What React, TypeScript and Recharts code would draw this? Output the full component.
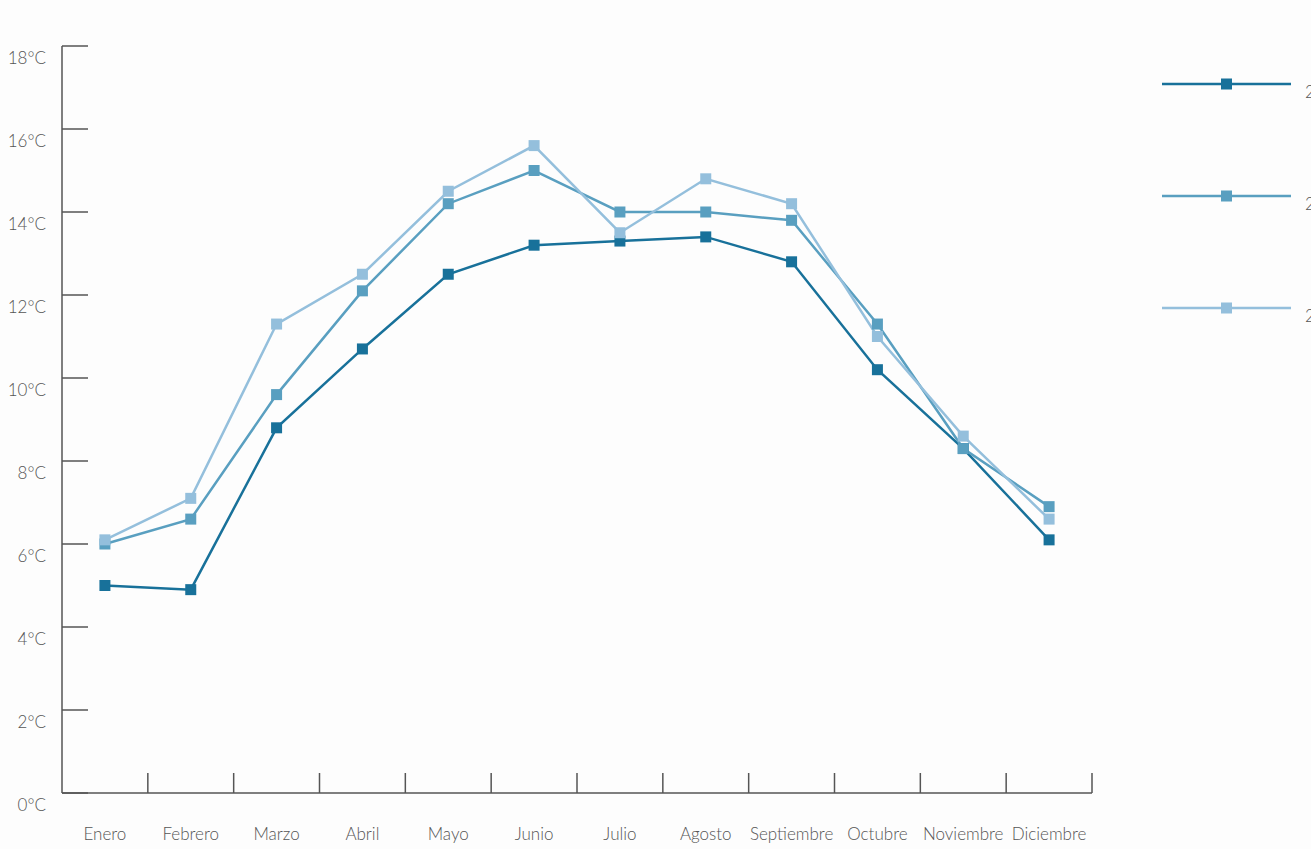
import React from 'react'
import { LineChart, Line, XAxis, YAxis, Legend } from 'recharts'

// Monthly temperatures, three years
const months = [
  'Enero', 'Febrero', 'Marzo', 'Abril', 'Mayo', 'Junio',
  'Julio', 'Agosto', 'Septiembre', 'Octubre', 'Noviembre', 'Diciembre'
]
const serie2010 = [5.0, 4.9, 8.8, 10.7, 12.5, 13.2, 13.3, 13.4, 12.8, 10.2, 8.3, 6.1]
const serie2011 = [6.0, 6.6, 9.6, 12.1, 14.2, 15.0, 14.0, 14.0, 13.8, 11.3, 8.3, 6.9]
const serie2012 = [6.1, 7.1, 11.3, 12.5, 14.5, 15.6, 13.5, 14.8, 14.2, 11.0, 8.6, 6.6]
const yTicks = [0, 2, 4, 6, 8, 10, 12, 14, 16, 18]

const series = [
  { key: 'a', name: '2010', color: '#18719a', values: serie2010 },
  { key: 'b', name: '2011', color: '#599fc0', values: serie2011 },
  { key: 'c', name: '2012', color: '#94bfdc', values: serie2012 }
]

const data = months.map((m, i) => ({
  mes: m,
  a: serie2010[i],
  b: serie2011[i],
  c: serie2012[i]
}))

const W = 1311
const H = 849
const AXIS_LEFT = 62
const AXIS_RIGHT = 1092
const HALF_BAND = (AXIS_RIGHT - AXIS_LEFT) / months.length / 2
const AXIS_COLOR = '#555'
const FONT = 'Lato, "Open Sans", sans-serif'

const SquareDot = (props: any) => {
  const { cx, cy, stroke } = props
  if (cx == null || cy == null) return null
  return <rect x={cx - 5.5} y={cy - 5.5} width={11} height={11} fill={stroke} />
}

const YTick = ({ x, y, payload }: any) => (
  <g>
    <line x1={x + 16} x2={x + 42} y1={y} y2={y} stroke={AXIS_COLOR} strokeWidth={1.5} />
    <text x={x} y={y + 18} textAnchor="end" fontSize={17} fill={AXIS_COLOR} fontFamily={FONT} fontWeight={300}>
      {payload.value}°C
    </text>
  </g>
)

const XTick = ({ x, y, payload }: any) => (
  <g>
    <line
      x1={x + HALF_BAND}
      x2={x + HALF_BAND}
      y1={y - 20}
      y2={y}
      stroke={AXIS_COLOR}
      strokeWidth={1.5}
    />
    <text x={x} y={y + 47} textAnchor="middle" fontSize={17} fill={AXIS_COLOR} fontFamily={FONT} fontWeight={300}>
      {payload.value}
    </text>
  </g>
)

const LegendBox = () => (
  <svg width={200} height={260} style={{ overflow: 'visible' }}>
    {series.map((s, i) => (
      <g key={s.key} transform={`translate(0, ${i * 112})`}>
        <line x1={0} x2={129} y1={10} y2={10} stroke={s.color} strokeWidth={2.5} />
        <rect x={59} y={4.5} width={11} height={11} fill={s.color} />
        <text x={143} y={24} fontSize={17} fill={AXIS_COLOR} fontFamily={FONT} fontWeight={300}>
          {s.name}
        </text>
      </g>
    ))}
  </svg>
)

export default function App() {
  return (
    <div
      style={{
        position: 'absolute',
        left: 0,
        top: 0,
        width: W,
        height: H,
        overflow: 'hidden',
        background: '#fdfdfd'
      }}
    >
      <LineChart width={W} height={H} data={data} margin={{ top: 46, right: W - AXIS_RIGHT, bottom: 0, left: 0 }}>
        <XAxis
          dataKey="mes"
          height={56}
          padding={{ left: HALF_BAND, right: HALF_BAND }}
          tickLine={false}
          tickSize={0}
          tickMargin={0}
          interval={0}
          axisLine={{ stroke: AXIS_COLOR, strokeWidth: 1.5 }}
          tick={<XTick />}
        />
        <YAxis
          width={AXIS_LEFT}
          domain={[0, 18]}
          ticks={yTicks}
          interval={0}
          tickLine={false}
          tickSize={0}
          tickMargin={16}
          axisLine={{ stroke: AXIS_COLOR, strokeWidth: 1.5 }}
          tick={<YTick />}
        />
        <Legend
          layout="vertical"
          align="center"
          verticalAlign="middle"
          content={<LegendBox />}
          wrapperStyle={{ position: 'absolute', left: 1162, top: 74, width: 200 }}
        />
        {series.map((s) => (
          <Line
            key={s.key}
            dataKey={s.key}
            name={s.name}
            type="linear"
            stroke={s.color}
            strokeWidth={2.5}
            dot={<SquareDot />}
            activeDot={false}
            isAnimationActive={false}
          />
        ))}
      </LineChart>
    </div>
  )
}
